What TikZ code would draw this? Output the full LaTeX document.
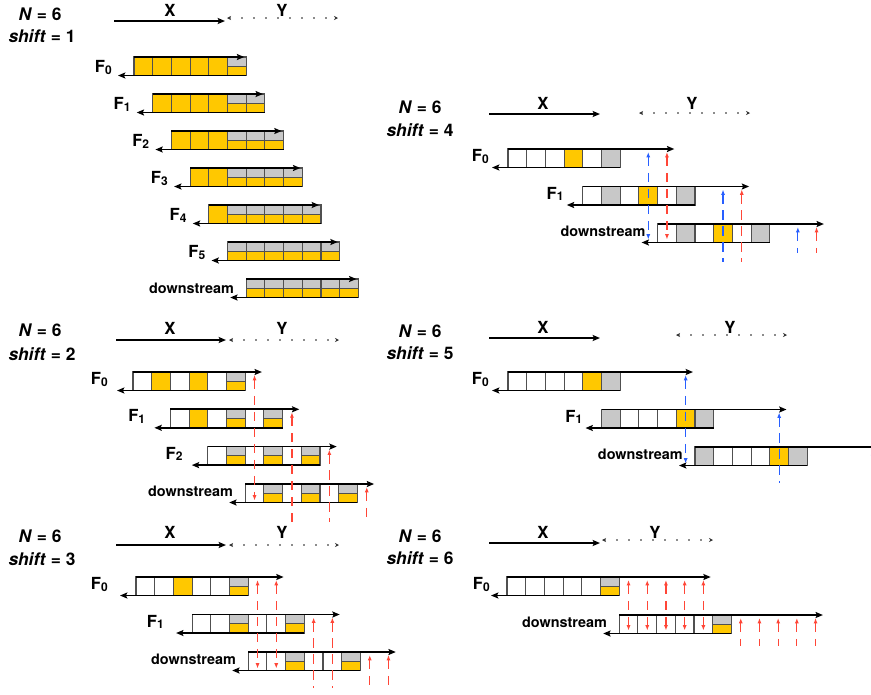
\documentclass[tikz,border=0pt]{standalone}
\usepackage{fontspec}
\setmainfont{TeX Gyre Heros}
\usetikzlibrary{arrows.meta}

\definecolor{cellyellow}{RGB}{255,200,0}
\definecolor{cellgray}{RGB}{200,200,200}
\definecolor{cellrule}{RGB}{80,80,80}
\definecolor{lanered}{RGB}{255,70,55}
\definecolor{laneblue}{RGB}{40,95,255}
\definecolor{dotgray}{RGB}{140,140,140}

\tikzset{
  cellline/.style={draw=cellrule, line width=0.8pt},
  busarrow/.style={line width=1.3pt, -{Stealth[length=5.5pt,width=4.5pt,inset=1pt]}},
  xspan/.style={line width=1.3pt, -{Stealth[length=5.5pt,width=4.5pt,inset=1pt]}},
  yspan/.style={dotgray, line width=1pt, dash pattern=on 1.2pt off 7.8pt,
    {Stealth[length=3pt,width=3pt,color=black!80]}-{Stealth[length=3pt,width=3pt,color=black!80]}},
  hdr/.style={font=\fontsize{13}{15}\selectfont\bfseries, inner sep=0pt},
  xylab/.style={font=\fontsize{12.5}{14}\selectfont\bfseries, inner sep=0pt},
  flab/.style={anchor=base east, font=\fontsize{12.5}{14}\selectfont\bfseries, inner sep=0pt},
  dslab/.style={anchor=base east, font=\fontsize{10.8}{12}\selectfont\bfseries, inner sep=0pt},
  lane/.style={line width=0.9pt, dash pattern=on 7pt off 5pt},
  redlane/.style={lane, lanered},
  bluelane/.style={lane, laneblue},
  uptip/.style={{Latex[length=4pt,width=3pt]}-},
  bothtips/.style={{Latex[length=4pt,width=3pt]}-{Latex[length=4pt,width=3pt]}},
}

% cell width and height
\def\cw{18.7}
\def\ch{18.5}
% smaller digit after an F label
\newcommand\fsub[1]{\raisebox{-1.2pt}{\fontsize{9}{9}\selectfont #1}}
% one buffer row: #1 left edge, #2 top edge,
% #3 cell codes (0 empty, 1 yellow, 2 gray, 3 gray over yellow), #4 shift
\newcommand\cellrow[4]{%
  \foreach \c [count=\i from 0] in {#3}{%
    \pgfmathsetmacro\xl{#1+\i*\cw}%
    \pgfmathsetmacro\xr{#1+(\i+1)*\cw}%
    \pgfmathsetmacro\ym{#2+\ch/2}%
    \ifcase\c\relax
      \fill[white] (\xl,#2) rectangle (\xr,#2+\ch);
    \or
      \fill[cellyellow] (\xl,#2) rectangle (\xr,#2+\ch);
    \or
      \fill[cellgray] (\xl,#2) rectangle (\xr,#2+\ch);
    \or
      \fill[cellgray] (\xl,#2) rectangle (\xr,\ym);
      \fill[cellyellow] (\xl,\ym) rectangle (\xr,#2+\ch);
      \draw[cellline] (\xl,\ym) -- (\xr,\ym);
    \fi
    \draw[cellline] (\xl,#2) rectangle (\xr,#2+\ch);
  }%
  \draw[busarrow] (#1,#2) -- ({#1+(5+#4)*\cw-2},#2);
  \draw[busarrow] ({#1+6*\cw},#2+\ch) -- (#1-16,#2+\ch);
}

\begin{document}
\begin{tikzpicture}[x=0.75pt, y=-0.75pt]
\useasboundingbox (0,0) rectangle (871,694);

% ---------------- shift = 1 ----------------
\node[hdr] (A-N) at (40,14) {\textit{N} = 6};
\node[hdr] (A-shift) at (42,36) {\textit{shift} = 1};
\coordinate (A-xa) at (114,21); \coordinate (A-xb) at (225,21);
\draw[xspan] (A-xa) -- (A-xb);
\node[xylab] (A-X) at (170,10) {X};
\coordinate (A-ya) at (227,18); \coordinate (A-yb) at (338,18);
\draw[yspan] (A-ya) -- (A-yb);
\node[xylab] (A-Y) at (282,10) {Y};

\cellrow{134}{57}{1,1,1,1,1,3}{1}
\cellrow{152.7}{94}{1,1,1,1,3,3}{1}
\cellrow{171.4}{131}{1,1,1,3,3,3}{1}
\cellrow{190.1}{168}{1,1,3,3,3,3}{1}
\cellrow{208.8}{205}{1,3,3,3,3,3}{1}
\cellrow{227.5}{242}{3,3,3,3,3,3}{1}
\cellrow{246.2}{279}{3,3,3,3,3,3}{1}
\node[flab] (A-F0) at (112,72.5) {F\fsub{0}};
\node[flab] (A-F1) at (130.7,109.5) {F\fsub{1}};
\node[flab] (A-F2) at (149.4,146.5) {F\fsub{2}};
\node[flab] (A-F3) at (168.1,183.5) {F\fsub{3}};
\node[flab] (A-F4) at (186.8,220.5) {F\fsub{4}};
\node[flab] (A-F5) at (205.5,257.5) {F\fsub{5}};
\node[dslab] (A-ds) at (234.2,293.5) {downstream};

% ---------------- shift = 2 ----------------
\node[hdr] (B-N) at (40,330) {\textit{N} = 6};
\node[hdr] (B-shift) at (42,354) {\textit{shift} = 2};
\coordinate (B-xa) at (116,340); \coordinate (B-xb) at (226,340);
\draw[xspan] (B-xa) -- (B-xb);
\node[xylab] (B-X) at (170,328) {X};
\coordinate (B-ya) at (229,340); \coordinate (B-yb) at (339,340);
\draw[yspan] (B-ya) -- (B-yb);
\node[xylab] (B-Y) at (282,328) {Y};

\cellrow{133}{372}{0,1,0,1,0,3}{2}
\cellrow{170.4}{409.3}{0,1,0,3,0,3}{2}
\cellrow{207.8}{446.6}{0,3,0,3,0,3}{2}
\cellrow{245.2}{484}{0,3,0,3,0,3}{2}
\node[flab] (B-F0) at (108,384.5) {F\fsub{0}};
\node[flab] (B-F1) at (145.4,421.8) {F\fsub{1}};
\node[flab] (B-F2) at (182.8,459.1) {F\fsub{2}};
\node[dslab] (B-ds) at (233.2,496.5) {downstream};

\draw[redlane,bothtips] (254.55,375) -- (254.55,500.5);
\draw[redlane,uptip] (291.95,412.3) -- (291.95,522);
\draw[redlane,uptip] (329.35,449.6) -- (329.35,522);
\draw[redlane,uptip] (366.75,487) -- (366.75,522);

% ---------------- shift = 3 ----------------
\node[hdr] (C-N) at (40,536) {\textit{N} = 6};
\node[hdr] (C-shift) at (42,559) {\textit{shift} = 3};
\coordinate (C-xa) at (116,545); \coordinate (C-xb) at (226,545);
\draw[xspan] (C-xa) -- (C-xb);
\node[xylab] (C-X) at (170,532) {X};
\coordinate (C-ya) at (229,545); \coordinate (C-yb) at (339,545);
\draw[yspan] (C-ya) -- (C-yb);
\node[xylab] (C-Y) at (282,532) {Y};

\cellrow{136}{577}{0,0,1,0,0,3}{3}
\cellrow{192.1}{614.5}{0,0,3,0,0,3}{3}
\cellrow{248.2}{652}{0,0,3,0,0,3}{3}
\node[flab] (C-F0) at (108,589.5) {F\fsub{0}};
\node[flab] (C-F1) at (164.1,627) {F\fsub{1}};
\node[dslab] (C-ds) at (236.2,664.5) {downstream};

\foreach \x in {257.55,276.25}
  \draw[redlane,bothtips] (\x,580) -- (\x,668.5);
\foreach \x in {313.65,332.35}
  \draw[redlane,uptip] (\x,617.5) -- (\x,688);
\foreach \x in {369.75,388.45}
  \draw[redlane,uptip] (\x,655) -- (\x,688);

% ---------------- shift = 4 ----------------
\node[hdr] (D-N) at (420,107) {\textit{N} = 6};
\node[hdr] (D-shift) at (420,130) {\textit{shift} = 4};
\coordinate (D-xa) at (489,114); \coordinate (D-xb) at (600,114);
\draw[xspan] (D-xa) -- (D-xb);
\node[xylab] (D-X) at (543,103) {X};
\coordinate (D-ya) at (639,113); \coordinate (D-yb) at (750,113);
\draw[yspan] (D-ya) -- (D-yb);
\node[xylab] (D-Y) at (692,103) {Y};

\cellrow{508}{149}{0,0,0,1,0,2}{4}
\cellrow{582.8}{186.5}{0,2,0,1,0,2}{4}
\cellrow{657.6}{224}{0,2,0,1,0,2}{4}
\node[flab] (D-F0) at (489,161.5) {F\fsub{0}};
\node[flab] (D-F1) at (563.8,199) {F\fsub{1}};
\node[dslab] (D-ds) at (645.6,236.5) {downstream};

\draw[bluelane,bothtips] (648.25,152) -- (648.25,239.5);
\draw[redlane,bothtips] (666.95,152) -- (666.95,239.5);
\draw[bluelane,uptip] (723.05,189.5) -- (723.05,262);
\draw[redlane,uptip] (741.75,189.5) -- (741.75,262);
\draw[bluelane,uptip] (797.85,227) -- (797.85,253);
\draw[redlane,uptip] (816.55,227) -- (816.55,253);

% ---------------- shift = 5 ----------------
\node[hdr] (E-N) at (420,331) {\textit{N} = 6};
\node[hdr] (E-shift) at (420,353) {\textit{shift} = 5};
\coordinate (E-xa) at (489,338); \coordinate (E-xb) at (600,338);
\draw[xspan] (E-xa) -- (E-xb);
\node[xylab] (E-X) at (543,327) {X};
\coordinate (E-ya) at (676,335); \coordinate (E-yb) at (787,335);
\draw[yspan] (E-ya) -- (E-yb);
\node[xylab] (E-Y) at (730,327) {Y};

\cellrow{508}{372}{0,0,0,0,1,2}{5}
\cellrow{601.5}{409.5}{2,0,0,0,1,2}{5}
\cellrow{695}{447}{2,0,0,0,1,2}{5}
\node[flab] (E-F0) at (489,384.5) {F\fsub{0}};
\node[flab] (E-F1) at (582.5,422) {F\fsub{1}};
\node[dslab] (E-ds) at (683,459.5) {downstream};

\draw[bluelane,bothtips] (685.65,375) -- (685.65,463.5);
\draw[bluelane,uptip] (779.15,412.5) -- (779.15,483);
\draw[bluelane,uptip] (872.65,450) -- (872.65,483);

% ---------------- shift = 6 ----------------
\node[hdr] (F-N) at (420,536) {\textit{N} = 6};
\node[hdr] (F-shift) at (420,558) {\textit{shift} = 6};
\coordinate (F-xa) at (489,543); \coordinate (F-xb) at (600,543);
\draw[xspan] (F-xa) -- (F-xb);
\node[xylab] (F-X) at (543,532) {X};
\coordinate (F-ya) at (602,540); \coordinate (F-yb) at (713,540);
\draw[yspan] (F-ya) -- (F-yb);
\node[xylab] (F-Y) at (655,532) {Y};

\cellrow{507}{577}{0,0,0,0,0,3}{6}
\cellrow{619.2}{615}{0,0,0,0,0,3}{6}
\node[flab] (F-F0) at (490,589.5) {F\fsub{0}};
\node[dslab] (F-ds) at (607.2,627.5) {downstream};

\foreach \j in {6.5,7.5,8.5,9.5,10.5}
  \draw[redlane,bothtips] ({507+\j*\cw},580) -- ({507+\j*\cw},630.5);
\foreach \j in {6.5,7.5,8.5,9.5,10.5}
  \draw[redlane,uptip] ({619.2+\j*\cw},618) -- ({619.2+\j*\cw},646);
\end{tikzpicture}
\end{document}
